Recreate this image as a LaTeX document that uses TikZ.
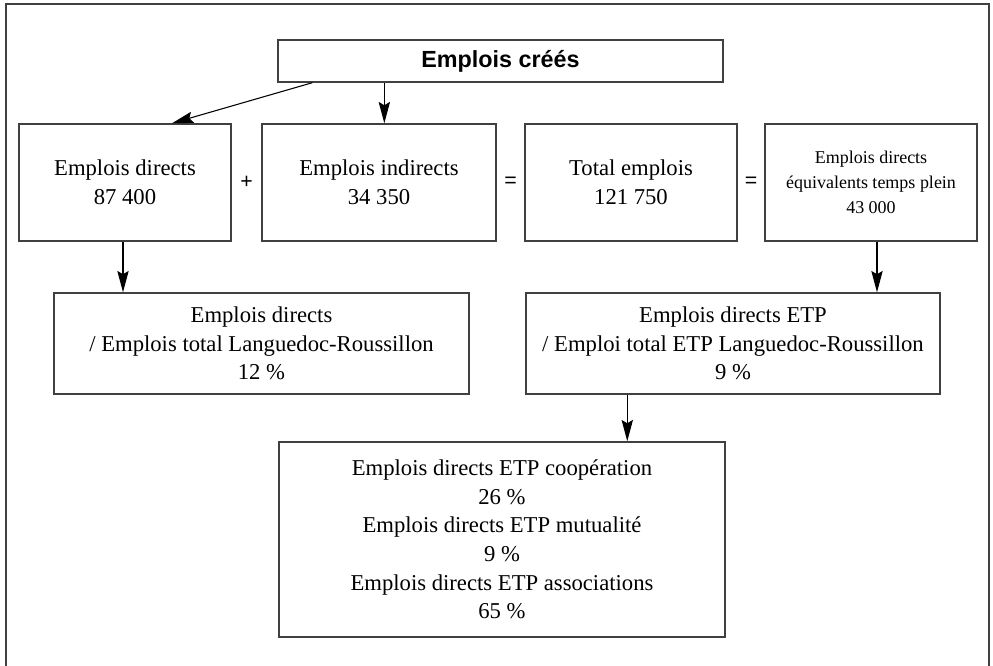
\documentclass[tikz,border=0pt]{standalone}
\usepackage{fontspec}
\setmainfont{Liberation Serif}
\newfontfamily\headfont{Liberation Sans}
\usetikzlibrary{arrows.meta}

\begin{document}
\begin{tikzpicture}[x=0.75pt,y=0.75pt,yscale=-1,xscale=1,
  emploibox/.style={draw=black!75, line width=1.1pt, align=center, inner sep=0pt,
    font=\fontsize{17}{21.5}\selectfont},
  signe/.style={inner sep=0pt, font=\headfont\fontsize{16}{18}\selectfont},
  fleche/.style={draw=black, line width=0.8pt, -{Stealth[length=16pt,width=8.5pt,inset=2.5pt]}}]
\useasboundingbox (0,0) rectangle (993,665);

%Frame (open at the bottom)
\draw [black!75, line width=1.5pt] (6,670) -- (6,4) -- (989,4) -- (989,670) ;

%Shape: Rectangle [top]
\node [emploibox, minimum width=333.75pt, minimum height=31.5pt,
  font=\headfont\bfseries\fontsize{17.5}{21}\selectfont] (crees) at (500.5,61) {Emplois créés};

%Shape: Rectangle [row 1]
\node [emploibox, minimum width=159pt, minimum height=87.75pt] (directs) at (125,182.5) {Emplois directs\\87 400};
\node [emploibox, minimum width=175.5pt, minimum height=87.75pt] (indirects) at (379,182.5) {Emplois indirects\\34 350};
\node [emploibox, minimum width=159pt, minimum height=87.75pt] (total) at (631,182.5) {Total emplois\\121 750};
\node [emploibox, minimum width=159pt, minimum height=87.75pt,
  font=\fontsize{13.5}{18.5}\selectfont] (etp) at (871,182.5) {Emplois directs\\équivalents temps plein\\43 000};

%Signs
\node [signe] (plus) at (246.5,182.5) {+};
\node [signe] (egalA) at (510.5,182.5) {=};
\node [signe] (egalB) at (751,182.5) {=};

%Shape: Rectangle [row 2]
\node [emploibox, minimum width=311.25pt, minimum height=75.75pt] (partLR) at (261.5,343.5) {Emplois directs\\/ Emplois total Languedoc-Roussillon\\12 \%};
\node [emploibox, minimum width=310.5pt, minimum height=75.75pt] (partETP) at (733,343.5) {Emplois directs ETP\\/ Emploi total ETP Languedoc-Roussillon\\9 \%};

%Shape: Rectangle [bottom]
\node [emploibox, minimum width=334.5pt, minimum height=146.25pt] (familles) at (502,539.5) {Emplois directs ETP coopération\\26 \%\\Emplois directs ETP mutualité\\9 \%\\Emplois directs ETP associations\\65 \%};

%Arrows
\draw [fleche] ([xshift=26.25pt]crees.south west) -- ([xshift=35.25pt]directs.north) ;
\draw [fleche] ([xshift=4pt]indirects.north |- crees.south) -- ([xshift=4pt]indirects.north) ;
\draw [fleche] ([xshift=-1.5pt]directs.south) -- ([xshift=-1.5pt]directs.south |- partLR.north) ;
\draw [fleche] ([xshift=4.5pt]etp.south) -- ([xshift=4.5pt]etp.south |- partETP.north) ;
\draw [fleche] ([xshift=76.5pt]partETP.south west) -- ([xshift=76.5pt]partETP.south west |- familles.north) ;

\end{tikzpicture}
\end{document}
